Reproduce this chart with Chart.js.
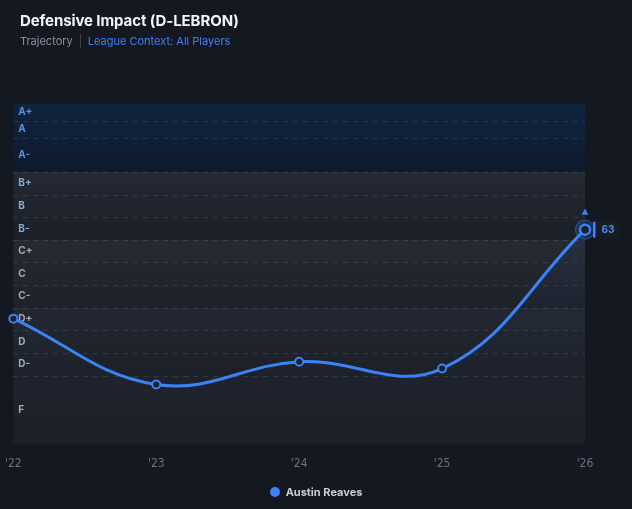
<!DOCTYPE html>
<html>
<head>
<meta charset="utf-8">
<script src="https://cdn.jsdelivr.net/npm/chart.js@4.4.1/dist/chart.umd.min.js"></script>
<style>
  html, body {margin: 0; padding: 0; background: #141820; width: 632px; height: 509px; overflow: hidden;}
  body {font-family: Inter, "Noto Sans", sans-serif; position: relative;}
  .head {position: absolute; left: 20px; top: 11px; z-index: 2;}
  .title {color: #f2f4f7; font-weight: 700; font-size: 15px; letter-spacing: -0.1px;}
  .sub {margin-top: 4px; font-size: 11px; display: flex; align-items: center;}
  .sub .muted {color: #8a919e;}
  .sub .sep {width: 1px; height: 14px; background: #3a404b; margin: 0 7px;}
  .sub .ctx {color: #3b82f6;}
  #wrap {position: absolute; left: 0; top: 0; width: 632px; height: 509px;}
  .legend {position: absolute; left: 0; right: 0; top: 485px; display: flex; justify-content: center; align-items: center; z-index: 2;}
  .legend .dot {width: 10px; height: 10px; border-radius: 50%; background: #3b82f6; margin-right: 6px;}
  .legend .name {color: #c9cdd4; font-size: 11px; font-weight: 700;}
</style>
</head>
<body>
<div class="head">
  <div class="title">Defensive Impact (D-LEBRON)</div>
  <div class="sub"><span class="muted">Trajectory</span><span class="sep"></span><span class="ctx">League Context: All Players</span></div>
</div>
<div id="wrap"><canvas id="chart" width="632" height="509"></canvas></div>
<div class="legend" id="legend"></div>
<script>
// seasons and D-LEBRON percentile values
const seasons = ["'22", "'23", "'24", "'25", "'26"];
const percentiles = [36.8, 17.4, 24.1, 22.1, 63];
const playerName = "Austin Reaves";

// grade bands (percentile floors)
const gradeLabels = ["A+", "A", "A-", "B+", "B", "B-", "C+", "C", "C-", "D+", "D", "D-", "F"];
const gradeFloors = [95, 90, 80, 73.33, 66.67, 60, 53.33, 46.67, 40, 33.33, 26.67, 20, 0];
const gradeTops = [100, 95, 90, 80, 73.33, 66.67, 60, 53.33, 46.67, 40, 33.33, 26.67, 20];

const BLUE = "#3b82f6";

const bandColors = {
  A: ["#10243f", "#0e1a2d"],
  B: ["#242933", "#1b1f28"],
  C: ["#252a33", "#1d212a"],
  D: ["#232832", "#1c2029"],
  F: ["#1e222b", "#1c2028"],
};
const labelColors = {A: "#5a8fd6", B: "#86a9cc", C: "#a3aab6", D: "#a3aab6", F: "#a3aab6"};

const bandsPlugin = {
  id: "bands",
  beforeDatasetsDraw(chart) {
    const {ctx, chartArea: area, scales: {y}} = chart;
    ctx.save();
    // major band backgrounds
    const groups = {};
    gradeLabels.forEach((g, i) => {
      const k = g[0];
      if (!groups[k]) groups[k] = {top: gradeTops[i], floor: gradeFloors[i]};
      groups[k].floor = gradeFloors[i];
    });
    Object.keys(groups).forEach(k => {
      const top = y.getPixelForValue(groups[k].top);
      const bot = y.getPixelForValue(groups[k].floor);
      const grad = ctx.createLinearGradient(0, top, 0, bot);
      grad.addColorStop(0, bandColors[k][0]);
      grad.addColorStop(1, bandColors[k][1]);
      ctx.fillStyle = grad;
      ctx.fillRect(area.left, top, area.right - area.left, bot - top);
    });
    // dashed boundaries
    ctx.strokeStyle = "rgba(255,255,255,0.1)";
    ctx.lineWidth = 1;
    ctx.setLineDash([5, 5]);
    gradeFloors.forEach(v => {
      if (v <= 0) return;
      const py = Math.round(y.getPixelForValue(v)) + 0.5;
      ctx.beginPath();
      ctx.moveTo(area.left, py);
      ctx.lineTo(area.right, py);
      ctx.stroke();
    });
    ctx.setLineDash([]);
    // grade labels
    ctx.font = "bold 10px Inter, sans-serif";
    ctx.textBaseline = "middle";
    ctx.textAlign = "left";
    gradeLabels.forEach((g, i) => {
      const mid = (gradeTops[i] + gradeFloors[i]) / 2;
      ctx.fillStyle = labelColors[g[0]];
      ctx.fillText(g, area.left + 5, y.getPixelForValue(mid));
    });
    ctx.restore();
  },
};

const lastPointPlugin = {
  id: "lastPoint",
  afterDatasetsDraw(chart) {
    const {ctx} = chart;
    const meta = chart.getDatasetMeta(0);
    const idx = percentiles.length - 1;
    const pt = meta.data[idx];
    const x = pt.x, py = pt.y;
    ctx.save();
    // halo
    ctx.beginPath();
    ctx.arc(x, py, 9.5, 0, Math.PI * 2);
    ctx.fillStyle = "rgba(59,130,246,0.18)";
    ctx.fill();
    ctx.strokeStyle = "rgba(59,130,246,0.55)";
    ctx.lineWidth = 1;
    ctx.stroke();
    // inner point
    ctx.beginPath();
    ctx.arc(x, py, 5, 0, Math.PI * 2);
    ctx.fillStyle = "#1a1f2a";
    ctx.fill();
    ctx.strokeStyle = BLUE;
    ctx.lineWidth = 2.5;
    ctx.stroke();
    // trend arrow
    ctx.beginPath();
    ctx.moveTo(x, py - 21);
    ctx.lineTo(x - 3.5, py - 15);
    ctx.lineTo(x + 3.5, py - 15);
    ctx.closePath();
    ctx.fillStyle = BLUE;
    ctx.fill();
    // value tag
    const tx = x + 8;
    ctx.fillStyle = "#171c25";
    ctx.beginPath();
    ctx.roundRect(tx, py - 8, 26, 16, 3);
    ctx.fill();
    ctx.fillStyle = BLUE;
    ctx.fillRect(tx, py - 8, 2.5, 16);
    ctx.font = "bold 10px Inter, sans-serif";
    ctx.textAlign = "center";
    ctx.textBaseline = "middle";
    ctx.fillStyle = "#4b8ef0";
    ctx.fillText(String(Math.round(percentiles[idx])), tx + 15, py + 0.5);
    ctx.restore();
  },
};

document.getElementById("legend").innerHTML =
  `<span class="dot"></span><span class="name">${playerName}</span>`;

new Chart(document.getElementById("chart"), {
  type: "line",
  data: {
    labels: seasons,
    datasets: [{
      label: playerName,
      data: percentiles,
      borderColor: BLUE,
      borderWidth: 3,
      tension: 0.4,
      pointRadius: percentiles.map((v, i) => (i === percentiles.length - 1 ? 0 : 4)),
      pointBackgroundColor: "#1c2029",
      pointBorderColor: BLUE,
      pointBorderWidth: 2,
      fill: "origin",
      backgroundColor(context) {
        const {ctx, chartArea} = context.chart;
        if (!chartArea) return "rgba(59,130,246,0.1)";
        const g = ctx.createLinearGradient(0, chartArea.top, 0, chartArea.bottom);
        g.addColorStop(0, "rgba(59,130,246,0.16)");
        g.addColorStop(0.6, "rgba(59,130,246,0.02)");
        g.addColorStop(1, "rgba(59,130,246,0)");
        return g;
      },
    }],
  },
  options: {
    responsive: false,
    animation: false,
    layout: {padding: {top: 104, left: 6, right: 47, bottom: 33}},
    scales: {
      x: {
        type: "category",
        offset: false,
        grid: {display: false},
        border: {display: false},
        ticks: {color: "#6b7280", font: {size: 12, family: "'DejaVu Sans Condensed', 'Liberation Sans Narrow', Inter, sans-serif"}, padding: 5},
      },
      y: {
        min: 0,
        max: 100,
        display: false,
      },
    },
    plugins: {
      tooltip: {enabled: false},
      legend: {display: false},
    },
  },
  plugins: [bandsPlugin, lastPointPlugin],
});
</script>
</body>
</html>
